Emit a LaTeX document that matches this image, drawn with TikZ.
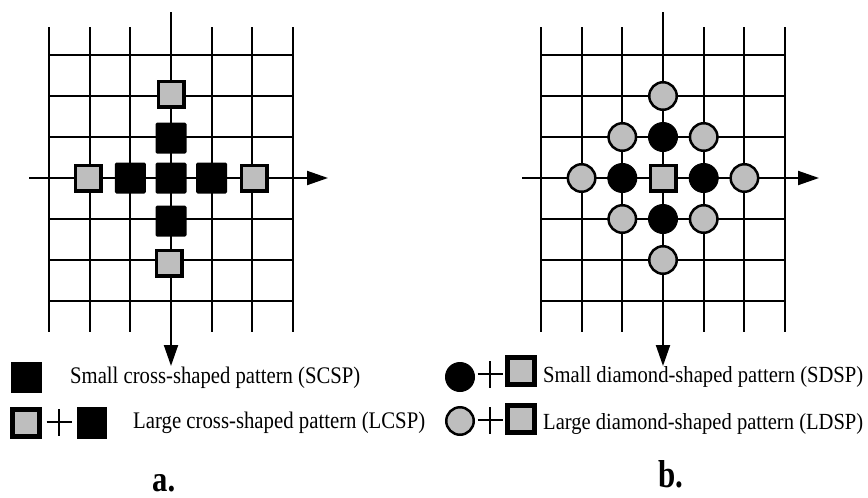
\documentclass[tikz,border=0pt]{standalone}
\usepackage{fontspec}
\setmainfont{Liberation Serif}
\usetikzlibrary{arrows.meta}
\definecolor{gfill}{RGB}{190,190,190}
\tikzset{
  gridln/.style={line width=2pt, black},
  axisln/.style={line width=2pt, black, -{Triangle[length=21pt,width=14pt]}},
  bsq/.style={draw=none, fill=black, minimum size=31pt, inner sep=0pt, rounded corners=1.5pt},
  gsq/.style={draw=black, fill=gfill, line width=3.5pt, minimum size=25.5pt, inner sep=0pt},
  bcirc/.style={circle, draw=black, fill=black, line width=1pt, minimum size=29pt, inner sep=0pt},
  gcirc/.style={circle, draw=black, fill=gfill, line width=2.5pt, minimum size=27.5pt, inner sep=0pt},
  plusn/.style={draw=none, fill=none, inner sep=0pt, minimum width=26pt, minimum height=27pt},
  lbl/.style={anchor=base west, inner sep=0pt},
  figcap/.style={anchor=base west, inner sep=0pt, font=\bfseries}
}
\newcommand{\plusmark}[1]{%
  \draw[line width=1.3pt] ([xshift=-12.5pt]#1.center) -- ([xshift=12.5pt]#1.center);
  \draw[line width=1.3pt] ([yshift=-13.5pt]#1.center) -- ([yshift=13.5pt]#1.center);}
\begin{document}
\begin{tikzpicture}[x=1pt,y=-1pt]
\useasboundingbox (0,0) rectangle (868,498);
\fill[white] (0,0) rectangle (868,498);
% ---------- grid a ----------
\foreach \k in {-3,-2,-1,1,2,3} {
  \draw[gridln] (171+\k*40.7,27) -- (171+\k*40.7,332);
  \draw[gridln] (48.9,178+\k*41) -- (293.1,178+\k*41);
}
\coordinate (aT) at (171,12);
\coordinate (aB) at (171,366);
\coordinate (aL) at (29,178);
\coordinate (aR) at (328,178);
\draw[axisln] (aT) -- (aB);
\draw[axisln] (aL) -- (aR);
% ---------- grid b ----------
\foreach \k in {-3,-2,-1,1,2,3} {
  \draw[gridln] (663+\k*40.7,27) -- (663+\k*40.7,332);
  \draw[gridln] (540.9,178+\k*41) -- (785.1,178+\k*41);
}
\coordinate (bT) at (663,12);
\coordinate (bB) at (663,366);
\coordinate (bL) at (522,178);
\coordinate (bR) at (819,178);
\draw[axisln] (bT) -- (bB);
\draw[axisln] (bL) -- (bR);
% ---------- pattern a ----------
\node[bsq] (a0) at (171,178) {};
\node[bsq] (aw1) at (130.3,178) {};
\node[bsq] (ae1) at (211.7,178) {};
\node[bsq] (an1) at (171,138) {};
\node[bsq] (as1) at (171,221) {};
\node[gsq] (aw2) at (88,178) {};
\node[gsq] (ae2) at (254,178) {};
\node[gsq] (an2) at (171,94) {};
\node[gsq] (as2) at (169,263) {};
% ---------- pattern b ----------
\node[gsq] (b0) at (663,178) {};
\node[bcirc] (bw1) at (622.3,178) {};
\node[bcirc] (be1) at (703.7,178) {};
\node[bcirc] (bn1) at (663,137) {};
\node[bcirc] (bs1) at (663,219) {};
\node[gcirc] (bw2) at (581.6,178) {};
\node[gcirc] (be2) at (744.4,178) {};
\node[gcirc] (bn2) at (663,96) {};
\node[gcirc] (bs2) at (663,260) {};
\node[gcirc] (bnw) at (622.3,137) {};
\node[gcirc] (bne) at (703.7,137) {};
\node[gcirc] (bsw) at (622.3,219) {};
\node[gcirc] (bse) at (703.7,219) {};
% ---------- legend a ----------
\node[bsq, rounded corners=0pt] (la1) at (26,377) {};
\node[lbl] (ta1) at (70,383) {\resizebox{290pt}{16.5pt}{Small cross-shaped pattern (SCSP)}};
\node[gsq, line width=5pt, minimum size=27pt] (la2g) at (26,423) {};
\node[plusn] (la2p) at (59,422) {};
\plusmark{la2p}
\node[bsq, rounded corners=0pt, minimum width=30pt, minimum height=32pt] (la2b) at (92,423) {};
\node[lbl] (ta2) at (133,428) {\resizebox{292pt}{16.5pt}{Large cross-shaped pattern (LCSP)}};
\node[figcap] (capa) at (152,491) {\resizebox{23pt}{17pt}{a.}};
% ---------- legend b ----------
\node[bcirc] (lb1c) at (460,377) {};
\node[plusn] (lb1p) at (490,374) {};
\plusmark{lb1p}
\node[gsq, line width=4.5pt, minimum size=27pt] (lb1s) at (521,371) {};
\node[lbl] (tb1) at (543,382) {\resizebox{320pt}{16pt}{Small diamond-shaped pattern (SDSP)}};
\node[gcirc] (lb2c) at (460,421) {};
\node[plusn] (lb2p) at (490,420) {};
\plusmark{lb2p}
\node[gsq, line width=4.5pt, minimum size=27pt] (lb2s) at (521,419) {};
\node[lbl] (tb2) at (543,429) {\resizebox{320pt}{16pt}{Large diamond-shaped pattern (LDSP)}};
\node[figcap] (capb) at (658,487) {\resizebox{25pt}{27pt}{b.}};
\end{tikzpicture}
\end{document}
